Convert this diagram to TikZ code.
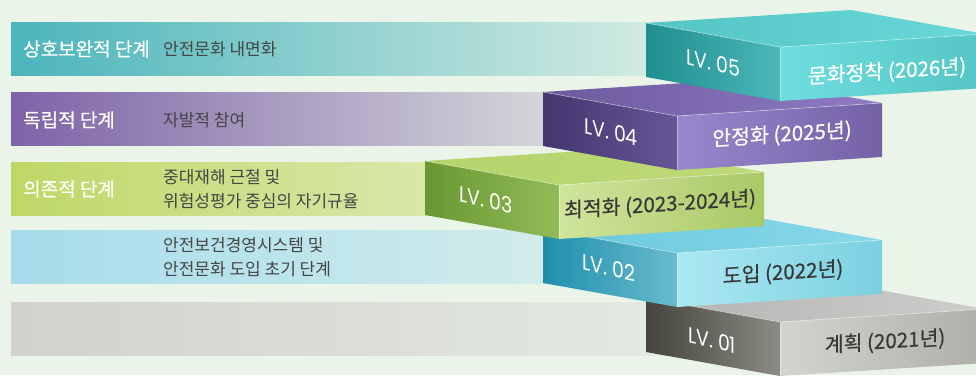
\documentclass[tikz,border=0pt]{standalone}
\usepackage{fontspec}
\newfontfamily\kr{Noto Sans CJK KR}
\newfontfamily\krm{Noto Sans CJK KR}[FakeBold=0.5]
\newfontfamily\lvfont{Poppins}
\usetikzlibrary{calc}
\definecolor{bg}{HTML}{EAF4E9}
\definecolor{desc}{HTML}{454545}
\definecolor{dark}{HTML}{383838}
% band colours
\definecolor{ba1}{HTML}{4BB5BB}\definecolor{bm1}{HTML}{8FD2CC}\definecolor{bb1}{HTML}{DCEFE5}
\definecolor{ba2}{HTML}{7E62A8}\definecolor{bm2}{HTML}{B3A6CB}\definecolor{bb2}{HTML}{DDE2DE}
\definecolor{ba3}{HTML}{BED866}\definecolor{bm3}{HTML}{CFE28E}\definecolor{bb3}{HTML}{DCEAB3}
\definecolor{ba4}{HTML}{A6DCEC}\definecolor{bm4}{HTML}{BFE4EC}\definecolor{bb4}{HTML}{D6EDEA}
\definecolor{ba5}{HTML}{D2D1CD}\definecolor{bm5}{HTML}{DCDFD8}\definecolor{bb5}{HTML}{E4EBE2}
% block colours
\definecolor{t5a}{HTML}{55C4C4}\definecolor{t5b}{HTML}{68D8D8}
\definecolor{l5a}{HTML}{1F8E8F}\definecolor{l5b}{HTML}{4CB7B8}
\definecolor{r5a}{HTML}{6FDEDE}\definecolor{r5b}{HTML}{54C4C5}
\definecolor{t4a}{HTML}{6D5A9E}\definecolor{t4b}{HTML}{8E7BC4}
\definecolor{l4a}{HTML}{44366E}\definecolor{l4b}{HTML}{665697}
\definecolor{r4a}{HTML}{9A88CE}\definecolor{r4b}{HTML}{7360A5}
\definecolor{t3a}{HTML}{B3D36B}\definecolor{t3b}{HTML}{BEDA79}
\definecolor{l3a}{HTML}{699832}\definecolor{l3b}{HTML}{91BB57}
\definecolor{r3a}{HTML}{D0E49C}\definecolor{r3b}{HTML}{A9C966}
\definecolor{t2a}{HTML}{6AC7DC}\definecolor{t2b}{HTML}{88D9E9}
\definecolor{l2a}{HTML}{1F8FAD}\definecolor{l2b}{HTML}{69BBCE}
\definecolor{r2a}{HTML}{ABE8F2}\definecolor{r2b}{HTML}{7BD0E1}
\definecolor{t1a}{HTML}{B3B3B1}\definecolor{t1b}{HTML}{CDCDCB}
\definecolor{l1a}{HTML}{45453E}\definecolor{l1b}{HTML}{8B8B83}
\definecolor{r1a}{HTML}{D3D4D0}\definecolor{r1b}{HTML}{AFAFA8}
\newcommand\lvblock[8]{%
  \shade[left color=#3,right color=#4] (#1,#2) -- ++(205,-13) -- ++(134,24) -- ++(-205,13) -- cycle;
  \shade[left color=#5,right color=#6] (#1,#2) -- ++(134,24) -- ++(0,54) -- ++(-134,-24) -- cycle;
  \shade[left color=#7,right color=#8] ({#1+134},{#2+24}) -- ++(205,-13) -- ++(0,54) -- ++(-205,13) -- cycle;
  \draw[white,opacity=0.45,line width=0.7] (#1,#2) -- ++(134,24) -- ++(205,-13);
  \draw[white,opacity=0.35,line width=1.2] ({#1+134.6},{#2+24}) -- ++(0,54);
}
\tikzset{
  lvtext/.style={text=white, font=\lvfont\fontsize{22}{22}\selectfont, xscale=0.86, yslant=-0.2, inner sep=0pt},
  facetext/.style={font=\krm\fontsize{20.5}{20.5}\selectfont, yslant=0.065, inner sep=0pt},
  bandlabel/.style={anchor=west, text=white, font=\krm\fontsize{19}{20}\selectfont, inner sep=0pt},
  banddesc/.style={anchor=west, text=desc, align=left, font=\kr\fontsize{17}{23.5}\selectfont, inner sep=0pt},
}
\begin{document}
\begin{tikzpicture}[x=1pt,y=-1pt]
\useasboundingbox (0,0) rectangle (976,375);
\fill[bg] (0,0) rectangle (976,375);
\clip (0,0) rectangle (976,375);
% bands
\shade[left color=ba1,middle color=bm1,right color=bb1] (11,22) rectangle (700,75);
\shade[left color=ba2,middle color=bm2,right color=bb2] (11,92) rectangle (600,145);
\shade[left color=ba3,middle color=bm3,right color=bb3] (11,162) rectangle (480,215);
\shade[left color=ba4,middle color=bm4,right color=bb4] (11,230) rectangle (600,283);
\shade[left color=ba5,middle color=bm5,right color=bb5] (11,302) rectangle (700,355);
\node[bandlabel] (lab5) at (23,49) {상호보완적 단계};
\node[banddesc] (desc5) at (163,49) {안전문화 내면화};
\node[bandlabel] (lab4) at (23,120) {독립적 단계};
\node[banddesc] (desc4) at (163,120) {자발적 참여};
\node[bandlabel] (lab3) at (23,189) {의존적 단계};
\node[banddesc] (desc3) at (163,189) {중대재해 근절 및\\위험성평가 중심의 자기규율};
\node[banddesc] (desc2) at (163,257) {안전보건경영시스템 및\\안전문화 도입 초기 단계};
% blocks
\lvblock{646}{298}{t1a}{t1b}{l1a}{l1b}{r1a}{r1b}
\node[lvtext] (lv1) at (712,340) {LV. 01};
\node[facetext,text=dark] (y1) at (885,342) {계획 (2021년)};
\lvblock{543}{229}{t2a}{t2b}{l2a}{l2b}{r2a}{r2b}
\node[lvtext] (lv2) at (609,268) {LV. 02};
\node[facetext,text=dark] (y2) at (783,273) {도입 (2022년)};
\lvblock{425}{161}{t3a}{t3b}{l3a}{l3b}{r3a}{r3b}
\node[lvtext] (lv3) at (486,200) {LV. 03};
\node[facetext,text=dark] (y3) at (660,205) {최적화 (2023-2024년)};
\lvblock{543}{92}{t4a}{t4b}{l4a}{l4b}{r4a}{r4b}
\node[lvtext] (lv4) at (611,132) {LV. 04};
\node[facetext,text=white] (y4) at (782,135) {안정화 (2025년)};
\lvblock{646}{23}{t5a}{t5b}{l5a}{l5b}{r5a}{r5b}
\node[lvtext] (lv5) at (713,63) {LV. 05};
\node[facetext,text=white] (y5) at (887,72) {문화정착 (2026년)};
\end{tikzpicture}
\end{document}
